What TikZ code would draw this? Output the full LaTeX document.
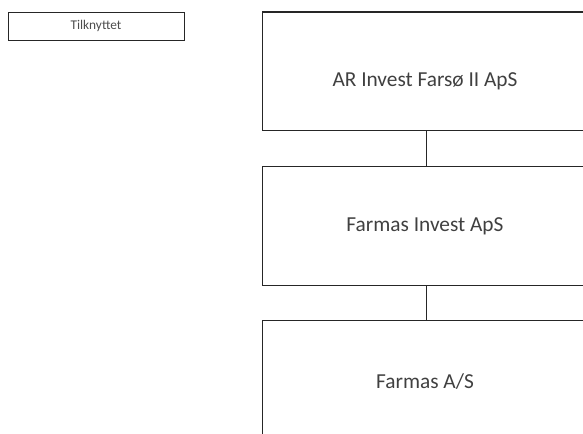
\documentclass[tikz,border=0pt]{standalone}
\usepackage{fontspec}
\setmainfont{Carlito}
\begin{document}
\begin{tikzpicture}[x=0.75pt,y=-0.75pt,
  orgbox/.style={draw=black!85,line width=0.9pt,rectangle,inner sep=0pt,anchor=north west},
  bigtext/.style={font=\fontsize{16}{19}\selectfont,text=black!75,inner sep=0pt},
  smalltext/.style={font=\fontsize{10}{12}\selectfont,text=black!70,inner sep=0pt},
  link/.style={draw=black!85,line width=0.9pt}]
\useasboundingbox (0,0) rectangle (583,434);
\clip (0,0) rectangle (583,434);
\node[orgbox,minimum width=176.5*0.75pt,minimum height=28*0.75pt] (tk) at (7.5,12) {};
\node[smalltext] (tkt) at (96,26) {Tilknyttet};
\node[orgbox,minimum width=327*0.75pt,minimum height=118.5*0.75pt] (b1) at (262,11.5) {};
\node[orgbox,minimum width=327*0.75pt,minimum height=119*0.75pt] (b2) at (262,166) {};
\node[orgbox,minimum width=327*0.75pt,minimum height=160*0.75pt] (b3) at (262,320) {};
\node[bigtext] (t1) at (425,81) {AR Invest Farsø II ApS};
\node[bigtext] (t2) at (425,226) {Farmas Invest ApS};
\node[bigtext] (t3) at (425,382) {Farmas A/S};
\draw[link] (b1.south) -- (b2.north);
\draw[link] (b2.south) -- (b3.north);
\end{tikzpicture}
\end{document}
